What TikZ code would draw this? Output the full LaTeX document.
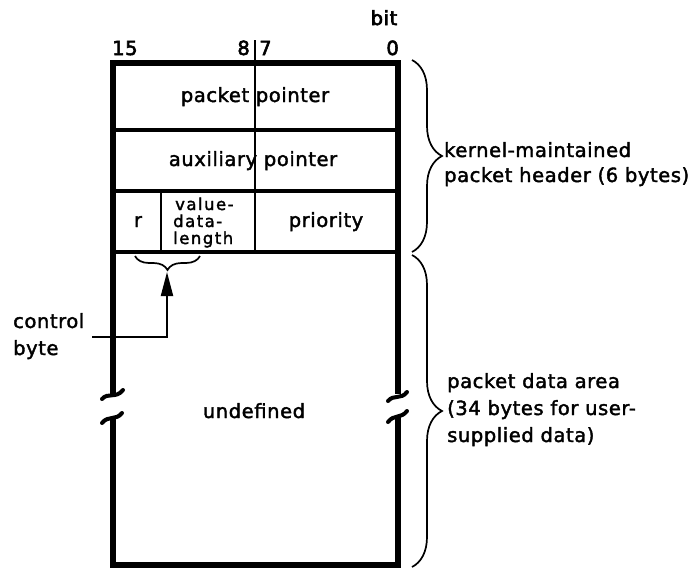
\documentclass[tikz,border=0pt]{standalone}
\usepackage{fontspec}
\setmainfont{DejaVu Sans}[LetterSpace=3,FakeBold=2]
\newfontfamily\smallf{DejaVu Sans}[LetterSpace=9,FakeBold=2]
\newfontfamily\hdrf{DejaVu Sans}[LetterSpace=3,FakeBold=3]
\usetikzlibrary{decorations.pathreplacing,arrows.meta}
\begin{document}
\begin{tikzpicture}[x=1pt,y=-1pt,
  lbl/.style={inner sep=0pt, font=\fontsize{19.5}{23}\selectfont},
  hdr/.style={inner sep=0pt, font=\hdrf\fontsize{19.5}{23}\selectfont},
  sml/.style={inner sep=0pt, font=\smallf\fontsize{16.5}{19}\selectfont},
  border/.style={line width=5.5pt, line join=miter},
  rowline/.style={line width=4pt},
  cellline/.style={line width=2.6pt},
  thinline/.style={line width=2pt},
  midline/.style={line width=1.7pt},
  wave/.style={line width=4pt, line cap=round},
  brc/.style={decorate, decoration={brace, amplitude=#1}, line width=1.7pt},
]
\useasboundingbox (0,0) rectangle (693,571);

% outer frame with break
\draw[border] (113,394) -- (113,63) -- (398,63) -- (398,394);
\draw[border] (113,417) -- (113,565) -- (398,565) -- (398,417);
\draw[wave] (102,399) .. controls (108,392) and (116,399) .. (123,390);
\draw[wave] (102,423) .. controls (108,415) and (116,421) .. (122,413);
\draw[wave] (388,401) .. controls (394,394) and (401,400) .. (407,392);
\draw[wave] (388,422) .. controls (394,414) and (401,419) .. (407,411);

% rows
\draw[rowline] (113,130) -- (398,130);
\draw[rowline] (113,191) -- (398,191);
\draw[rowline] (113,252) -- (398,252);
\draw[midline] (255,40) -- (255,191);
\draw[cellline] (255,191) -- (255,252);
\draw[cellline] (161,191) -- (161,252);

% bit labels
\node[hdr, anchor=base] (bit) at (384,25) {bit};
\node[hdr, anchor=base west] (b15) at (112,55) {15};
\node[hdr, anchor=base east] (b8) at (250,55) {8};
\node[hdr, anchor=base west] (b7) at (259,55) {7};
\node[hdr, anchor=base east] (b0) at (399,55) {0};

% field texts
\node[lbl, anchor=base] (pp) at (255,102) {packet pointer};
\node[lbl, anchor=base] (ap) at (253,166) {auxiliary pointer};
\node[lbl, anchor=base] (r) at (138,227) {r};
\node[sml, anchor=base west] (v1) at (175,210) {value-};
\node[sml, anchor=base west] (v2) at (173,227) {data-};
\node[sml, anchor=base west] (v3) at (173,244) {length};
\node[lbl, anchor=base] (pr) at (326,227) {priority};
\node[lbl, anchor=base] (und) at (254,418) {undefined};

% control byte
\node[lbl, anchor=base west] (c1) at (13,328) {control};
\node[lbl, anchor=base west] (c2) at (13,355) {byte};
\draw[brc=14] (200,256) -- (135,256);
\coordinate (cbstart) at (92,337);
\coordinate (cbtip) at (167,272);
\draw[thinline, -{Triangle[length=24pt,width=12pt]}] (cbstart) -| (cbtip);

% right braces
\draw[brc=30] (412,60) -- (412,252);
\draw[brc=30] (412,255) -- (412,567);
\node[lbl, anchor=base west] (k1) at (444,157) {kernel-maintained};
\node[lbl, anchor=base west] (k2) at (444,182) {packet header (6 bytes)};
\node[lbl, anchor=base west] (d1) at (447,388) {packet data area};
\node[lbl, anchor=base west] (d2) at (447,415) {(34 bytes for user-};
\node[lbl, anchor=base west] (d3) at (447,442) {supplied data)};
\end{tikzpicture}
\end{document}
